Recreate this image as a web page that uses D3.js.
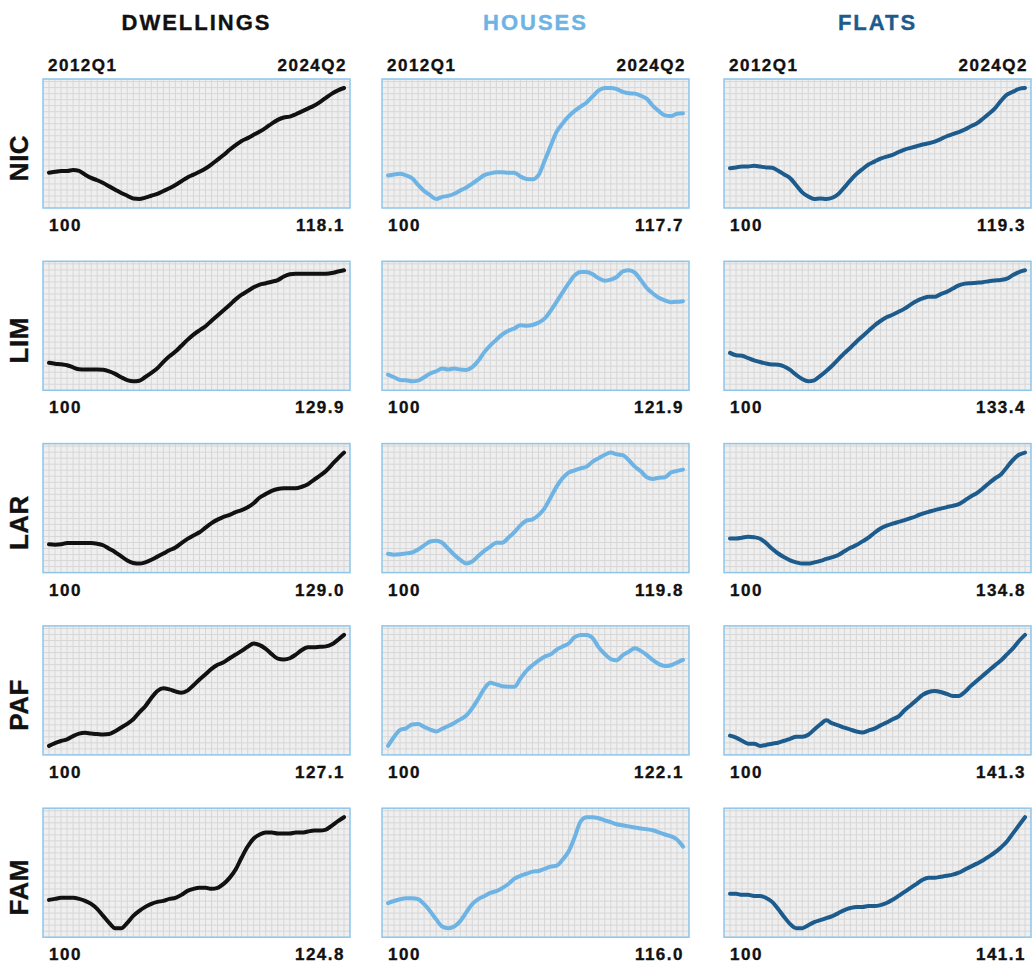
<!DOCTYPE html>
<html><head><meta charset="utf-8">
<script src="https://cdn.jsdelivr.net/npm/d3@7"></script>
<style>body{margin:0;background:#fff;} svg{display:block;font-family:"Liberation Sans",Arial,sans-serif;}</style>
</head><body><svg id="c" width="1032" height="967"></svg>
<script>
const regions = ["NIC","LIM","LAR","PAF","FAM"];
const types = ["DWELLINGS","HOUSES","FLATS"];
const tickLabels = ["2012Q1","2024Q2"];

const nicDwellings = [100.0,100.2,100.4,100.4,100.6,100.4,99.6,98.9,98.4,97.8,97.1,96.4,95.7,95.1,94.5,94.4,94.7,95.1,95.5,96.1,96.7,97.4,98.2,99.0,99.6,100.2,100.9,101.8,102.8,103.8,104.9,105.9,106.8,107.4,108.1,108.8,109.6,110.5,111.3,111.8,112.0,112.5,113.1,113.7,114.3,115.1,116.0,116.9,117.6,118.1];
const nicHouses = [100.0,100.3,100.5,100.0,99.2,97.3,95.6,94.4,93.3,93.9,94.2,94.8,95.7,96.6,97.7,98.9,100.1,100.6,100.9,100.9,100.8,100.8,99.7,99.0,98.9,100.1,104.1,108.3,112.4,114.8,116.8,118.4,119.6,120.8,122.5,124.2,124.9,124.9,124.6,123.8,123.4,123.3,122.7,121.8,119.8,118.3,117.1,116.9,117.6,117.7];
const nicFlats = [100.0,100.2,100.4,100.4,100.6,100.4,100.2,100.1,99.4,98.5,97.6,95.9,94.2,93.2,92.6,92.7,92.6,92.9,93.8,95.4,97.1,98.6,99.8,100.9,101.6,102.3,102.8,103.2,103.9,104.5,104.9,105.3,105.7,106.0,106.4,107.0,107.7,108.2,108.7,109.3,110.1,110.8,111.9,113.1,114.4,116.2,117.7,118.4,119.1,119.3];
const limDwellings = [100.0,99.7,99.5,99.2,98.5,97.9,97.8,97.8,97.8,97.7,97.2,96.4,95.3,94.4,94.0,94.2,95.4,96.7,98.2,100.3,102.1,103.6,105.5,107.4,109.1,110.5,111.8,113.6,115.3,117.0,118.7,120.5,122.0,123.2,124.4,125.3,125.7,126.2,126.7,127.9,128.6,128.8,128.8,128.8,128.8,128.8,128.8,129.0,129.5,129.9];
const limHouses = [100.0,99.2,98.4,98.3,98.0,98.2,99.2,100.3,101.0,101.8,101.5,101.8,101.5,101.4,102.2,104.1,106.7,108.7,110.4,112.0,113.1,113.8,114.7,114.6,114.8,115.5,116.7,119.0,121.7,124.5,127.2,129.6,130.6,130.6,129.9,128.7,128.0,128.3,129.1,130.8,131.1,130.4,128.2,125.8,124.2,122.9,122.1,121.6,121.7,121.9];
const limFlats = [100.0,99.0,98.8,97.9,97.0,96.3,95.7,95.3,95.2,94.5,93.1,91.1,89.4,88.5,88.9,90.7,92.7,94.9,97.4,99.9,102.1,104.5,106.7,108.9,111.1,112.9,114.4,115.4,116.6,117.9,119.5,121.0,122.0,122.7,122.7,123.8,124.7,126.0,127.3,128.0,128.2,128.4,128.6,129.0,129.3,129.5,130.0,131.5,132.7,133.4];
const larDwellings = [100.0,99.9,100.0,100.4,100.4,100.4,100.4,100.4,100.2,99.7,98.6,97.5,96.2,94.9,94.1,93.9,94.3,95.1,96.1,97.1,98.1,99.0,100.4,101.7,102.8,103.8,105.3,106.7,107.8,108.7,109.3,110.2,110.8,111.7,113.0,114.8,115.9,116.9,117.5,117.7,117.7,117.7,118.2,119.0,120.4,121.7,123.2,125.2,127.2,129.0];
const larHouses = [100.0,99.8,99.9,100.1,100.3,101.0,102.0,102.9,103.1,102.6,101.2,99.8,98.6,97.7,98.2,99.5,100.7,101.7,102.6,102.6,103.8,105.1,106.7,107.8,108.1,109.1,110.7,113.2,115.8,117.8,119.1,119.6,120.1,120.5,121.7,122.5,123.3,123.8,123.4,123.2,122.0,120.5,119.4,118.0,117.6,117.9,118.0,119.1,119.5,119.8];
const larFlats = [100.0,100.0,100.3,100.7,100.5,99.9,98.1,95.8,93.9,92.4,91.1,90.3,89.8,89.8,90.3,90.9,91.7,92.4,93.3,94.8,96.2,97.3,98.8,100.3,102.3,104.0,105.2,106.0,106.7,107.4,108.2,109.1,110.1,110.8,111.5,112.1,112.7,113.2,113.9,115.4,117.0,118.4,120.3,122.4,124.3,125.9,128.9,131.8,133.9,134.8];
const pafDwellings = [100.0,100.7,101.2,101.6,102.4,103.0,103.2,103.0,102.9,102.8,102.9,103.6,104.5,105.4,106.5,108.2,109.7,111.7,113.4,114.1,113.8,113.3,113.0,113.5,114.8,116.2,117.5,118.8,119.8,120.4,121.4,122.3,123.2,124.2,125.0,124.6,123.7,122.4,121.3,121.1,121.4,122.3,123.4,124.1,124.1,124.2,124.3,124.8,125.9,127.1];
const pafHouses = [100.0,102.3,104.1,104.5,105.5,105.6,104.9,104.2,103.7,104.4,105.1,105.9,106.8,107.8,109.7,112.1,114.7,116.2,115.8,115.3,115.2,115.2,117.3,119.3,120.7,121.9,122.9,123.5,124.7,125.5,126.3,127.9,128.5,128.5,127.7,125.3,123.6,122.3,122.0,123.3,124.2,125.1,124.4,123.3,122.0,121.0,120.5,120.7,121.4,122.1];
const pafFlats = [100.0,99.2,97.9,96.7,96.7,95.8,96.2,96.7,97.1,97.9,98.7,99.6,99.6,100.4,102.5,104.6,106.3,105.0,104.2,103.3,102.5,101.7,101.3,102.1,102.9,104.2,105.4,106.7,107.9,110.4,112.5,114.6,116.7,117.9,118.3,117.9,117.1,116.3,116.3,117.9,120.4,122.5,124.6,126.7,128.8,130.8,133.3,135.8,138.8,141.3];
const famDwellings = [100.0,100.3,100.6,100.6,100.6,100.3,99.7,98.8,97.3,95.2,93.1,91.5,91.5,93.1,95.2,96.7,97.9,98.8,99.4,99.7,100.3,100.6,101.5,102.7,103.3,103.6,103.6,103.3,103.6,104.8,106.6,109.1,112.7,116.0,118.4,119.6,120.2,120.2,119.9,119.9,119.9,120.2,120.2,120.5,120.8,120.8,121.1,122.3,123.6,124.8];
const famHouses = [100.0,100.6,101.1,101.4,101.4,101.1,99.7,97.7,95.4,93.4,92.9,93.4,94.9,97.4,99.7,101.1,102.0,102.9,103.4,104.3,105.4,106.9,107.7,108.3,108.9,109.1,109.7,110.3,110.6,112.3,114.6,118.6,123.1,124.3,124.3,124.0,123.4,122.9,122.3,122.0,121.7,121.4,121.1,120.9,120.6,120.0,119.4,118.9,118.0,116.0];
const famFlats = [100.0,100.0,99.5,99.5,98.9,98.9,97.8,95.7,91.9,87.6,83.8,81.6,81.6,83.2,84.9,85.9,87.0,88.1,89.7,91.3,92.4,93.0,93.0,93.5,93.5,94.0,95.1,96.8,98.9,101.1,103.2,105.4,107.6,108.7,108.7,109.2,109.7,110.3,111.4,113.0,114.6,116.2,117.9,120.0,122.2,124.9,128.1,132.4,136.8,141.1];

const seriesGrid = [
  [nicDwellings, nicHouses, nicFlats],
  [limDwellings, limHouses, limFlats],
  [larDwellings, larHouses, larFlats],
  [pafDwellings, pafHouses, pafFlats],
  [famDwellings, famHouses, famFlats]
];

// layout / style
const colors = ["#111111", "#6db3e4", "#1c5b8c"];
const colLeft = [43, 382, 724];
const panelW = 307, panelH = 129;
const rowTop0 = 79, rowStep = 182.3;

const svg = d3.select("#c");

function label(sel, size, color, spacing) {
  return sel.attr("font-size", size).attr("font-weight", "bold")
    .attr("letter-spacing", spacing + "px")
    .attr("fill", color).attr("stroke", color).attr("stroke-width", 0.35);
}

// column titles
types.forEach((t, c) => {
  label(svg.append("text")
    .attr("x", colLeft[c] + panelW / 2).attr("y", 30)
    .attr("text-anchor", "middle"), 22, c === 0 ? "#111" : colors[c], 2)
    .text(t);
});

regions.forEach((reg, r) => {
  const top = rowTop0 + r * rowStep;
  // row label
  label(svg.append("text")
    .attr("transform", `translate(28,${top + 79}) rotate(-90)`)
    .attr("text-anchor", "middle"), 26, "#111", 0.5)
    .text(reg);

  types.forEach((t, c) => {
    const data = seriesGrid[r][c];
    const g = svg.append("g").attr("transform", `translate(${colLeft[c]},${top})`);
    const x = d3.scaleLinear().domain([0, data.length - 1]).range([6, panelW - 6]);
    const y = d3.scaleLinear().domain(d3.extent(data)).range([panelH - 9, 9]);
    const step = x(1) - x(0);

    g.append("rect").attr("width", panelW).attr("height", panelH).attr("fill", "#efefef");
    const grid = g.append("g").attr("stroke", "#d7d7d7").attr("stroke-width", 1);
    d3.range(-1, data.length + 1).forEach(i => {
      const xx = x(i);
      if (xx > 0.5 && xx < panelW - 0.5)
        grid.append("line").attr("x1", xx).attr("x2", xx).attr("y1", 0).attr("y2", panelH);
    });
    for (let yy = panelH - step; yy > 0.5; yy -= step) {
      grid.append("line").attr("x1", 0).attr("x2", panelW).attr("y1", yy).attr("y2", yy);
    }
    g.append("rect").attr("width", panelW).attr("height", panelH)
      .attr("fill", "none").attr("stroke", "#8ec5ea").attr("stroke-width", 1.5);

    g.append("path")
      .datum(data)
      .attr("fill", "none")
      .attr("stroke", colors[c])
      .attr("stroke-width", 4)
      .attr("stroke-linejoin", "round")
      .attr("stroke-linecap", "round")
      .attr("d", d3.line().x((d, i) => x(i)).y(d => y(d)).curve(d3.curveMonotoneX));

    // top labels (first row only)
    if (r === 0) {
      label(g.append("text").attr("x", 5).attr("y", -8), 17, "#111", 1.5).text(tickLabels[0]);
      label(g.append("text").attr("x", panelW - 3).attr("y", -8).attr("text-anchor", "end"), 17, "#111", 1.5).text(tickLabels[1]);
    }
    // bottom labels
    label(g.append("text").attr("x", 6).attr("y", panelH + 23), 17, "#111", 1.5)
      .text(d3.format(".0f")(data[0]));
    label(g.append("text").attr("x", panelW - 5).attr("y", panelH + 23).attr("text-anchor", "end"), 17, "#111", 1.5)
      .text(d3.format(".1f")(data[data.length - 1]));
  });
});
</script></body></html>
